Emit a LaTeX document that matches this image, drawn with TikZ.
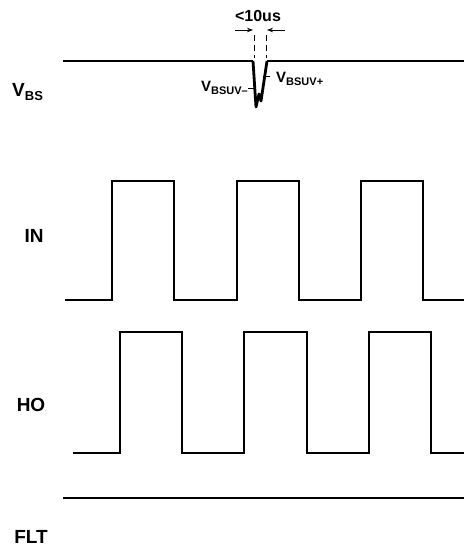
\documentclass[tikz,border=0pt]{standalone}
\usepackage{fontspec}
\setmainfont{Liberation Sans}
\usetikzlibrary{arrows.meta}
\tikzset{
  wave/.style={line width=2.4pt, line join=miter, line cap=butt},
  dip/.style={line width=2.8pt, line join=round},
  lbl/.style={font=\fontsize{19}{19}\selectfont\bfseries, inner sep=0pt},
  small/.style={font=\fontsize{16}{16}\selectfont\bfseries, inner sep=0pt},
  uvl/.style={font=\fontsize{15}{15}\selectfont\bfseries, inner sep=0pt},
  tick/.style={line width=0.9pt},
  guide/.style={line width=0.9pt, dash pattern=on 6pt off 4pt},
  dim/.style={line width=0.9pt, -{Stealth[length=6pt,width=4.5pt]}}
}
\begin{document}
\begin{tikzpicture}[x=1pt,y=-1pt]
\useasboundingbox (0,0) rectangle (464,548);
% labels
\node[lbl, anchor=base west] (vbs) at (12,97) {V\raisebox{-4pt}{\fontsize{13}{13}\selectfont BS}};
\node[lbl, anchor=base] (in) at (34,242) {IN};
\node[lbl, anchor=base] (ho) at (31,411) {HO};
\node[lbl, anchor=base] (flt) at (31,543) {FLT};
% VBS
\draw[wave] (63,61) -- (253,61);
\draw[dip] (253,61) -- (256,107) -- (259,94) -- (261,101) -- (267,61);
\draw[wave] (267,61) -- (464,61);
% dimension
\coordinate (gl1) at (254,35); \coordinate (gl2) at (254,58);
\coordinate (gr1) at (266,35); \coordinate (gr2) at (266,58);
\draw[guide] (gl1) -- (gl2);
\draw[guide] (gr1) -- (gr2);
\coordinate (al) at (235,30); \coordinate (alt) at (253,30);
\coordinate (ar) at (285,30); \coordinate (art) at (267,30);
\draw[dim] (al) -- (alt);
\draw[dim] (ar) -- (art);
\node[small, anchor=base] (dur) at (258,22) {<10us};
% UV labels
\node[uvl, anchor=base east] (uvm) at (248,92) {V\raisebox{-3pt}{\fontsize{11}{11}\selectfont BSUV–}};
\node[uvl, anchor=base west] (uvp) at (276,83) {V\raisebox{-3pt}{\fontsize{11}{11}\selectfont BSUV+}};
\coordinate (tm1) at (248,88); \coordinate (tm2) at (256,88);
\coordinate (tp1) at (263,76); \coordinate (tp2) at (270,76);
\draw[tick] (tm1) -- (tm2);
\draw[tick] (tp1) -- (tp2);
% IN
\draw[wave] (65,300) -- (112,300) -- (112,181) -- (174,181) -- (174,300) -- (237,300) -- (237,181) -- (299,181) -- (299,300) -- (361,300) -- (361,181) -- (423,181) -- (423,300) -- (464,300);
% HO
\draw[wave] (73,453) -- (120,453) -- (120,332) -- (182,332) -- (182,453) -- (244,453) -- (244,332) -- (307,332) -- (307,453) -- (369,453) -- (369,332) -- (431,332) -- (431,453) -- (464,453);
% FLT
\draw[wave] (63,498) -- (464,498);
\end{tikzpicture}
\end{document}
